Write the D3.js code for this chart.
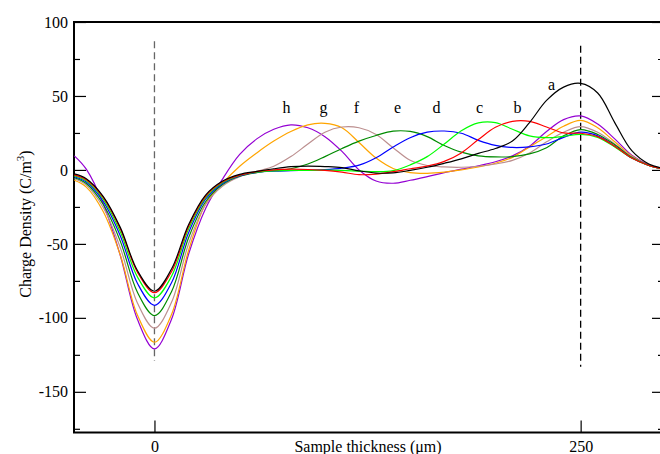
<!DOCTYPE html>
<meta charset="utf-8">
<head>
  <title>Charge density profiles</title>
</head>

<style>
body {
  margin: 0;
  background: #fff;
}
svg text {
  font-family: "Liberation Serif", "Times New Roman", serif;
  fill: #000;
}
</style>

<body>
  <div id="content">
    <svg width="660" height="454"></svg>
  </div>

  <script src="https://cdnjs.cloudflare.com/ajax/libs/d3/7.8.5/d3.min.js"></script>

  <script>
// sample positions (um), shared by every curve
var thickness = [-47, -40, -30, -20, -10, 0, 10, 20, 30, 40, 50, 60, 70, 80, 90, 100, 110, 120,
  130, 140, 150, 160, 170, 180, 190, 200, 210, 220, 230, 240, 250, 260, 270, 280, 290, 297];

var curveNames = ['a', 'b', 'c', 'd', 'e', 'f', 'g', 'h'];
var curveColors = ['#000000', '#ff0000', '#00ff00', '#0000ff', '#008b00', '#bc8f8f', '#ffa500', '#9400d3'];

// charge density (C/m^3)
var densityA = [-2.7, -6, -18, -39, -68, -82, -67, -37, -17, -7.5, -3, -1, 0.8, 2.2, 2.6, 2.3, 1.6, -0.6,
  -2.1, -2, -0.3, 1.8, 4.5, 7.5, 11.2, 14.5, 19.5, 32, 47, 56, 58.5, 52, 32, 13, 4, 1.5];
var densityB = [-3.3, -6.7, -18.7, -39.9, -69.1, -83, -68.8, -38.2, -17.8, -8, -3.5, -1.2, 0, 0.5, 0.3, -0.3, -1.5, -3.2,
  -2.8, -1.2, 0.8, 2.6, 5.8, 11.5, 20.5, 28.8, 32.8, 32.8, 29, 25, 24.8, 22.5, 16, 8, 3, 1];
var densityC = [-4, -7.4, -19.9, -42, -72.3, -86.5, -71.9, -40, -18.7, -8.5, -3.7, -1.5, -0.6, -0.3, -0.3, -0.2, -0.3, -0.8,
  -1.2, -0.5, 3.4, 9, 17.5, 26.5, 31.8, 32, 27.5, 23, 21.8, 22.7, 24, 22, 15.5, 8, 3, 1];
var densityD = [-4.6, -8.2, -21.4, -44.6, -76.6, -91.5, -76.3, -42.5, -19.8, -9.1, -4, -1.6, -0.8, -0.5, -0.2, 0.2, 1.2, 3.2,
  8.2, 15.5, 21.8, 25.5, 26.3, 24.8, 20, 16.6, 15.2, 15.6, 17.5, 22, 25.5, 23, 16, 8, 3, 1];
var densityE = [-5.3, -9.2, -23.4, -48.3, -82.7, -98.5, -82.3, -45.9, -21.5, -9.9, -4.3, -1.8, -0.5, 0.8, 4, 9, 14.5, 19.5,
  23.3, 26.2, 26, 22.5, 16.5, 12, 9.5, 8.8, 9, 10.8, 15, 23, 27.3, 24, 17, 8.5, 3, 1];
var densityF = [-6, -10.3, -25.6, -52.7, -89.9, -107, -89.5, -50, -23.4, -10.8, -4.5, -1, 2.5, 9, 17.5, 25.5, 29, 28.5,
  24, 15, 6.5, 3, 2, 1.8, 2.5, 4, 6.5, 11.5, 19, 25.5, 29.3, 25.5, 17.5, 9, 3, 1];
var densityG = [-7, -11.6, -28.3, -57.7, -98.1, -116.5, -97.7, -54.5, -23, -9, 2.5, 11.5, 19.5, 26, 30.5, 31.5, 28.5, 18.5,
  8, 1, -1.8, -2.3, -1.5, 0, 2, 4.5, 8.5, 15.5, 22.5, 29.5, 33.5, 28.5, 19, 9.5, 3.2, 1];
var densityH = [9.5, 0.5, -23, -58, -101, -121, -101, -57, -26, -6, 10.5, 21, 27.5, 30.5, 28.5, 22.5, 12.5, 0,
  -7.5, -9, -7, -4.5, -1.8, 0.5, 2.8, 5.5, 9.5, 16, 26, 34, 36.5, 31, 21, 10, 3.5, 1];

var allDensity = [densityA, densityB, densityC, densityD, densityE, densityF, densityG, densityH];

// where the letter for each curve sits [um, C/m^3]
var labelAt = [[233, 58], [213, 42.5], [190.7, 42.5], [165.5, 42.5], [142.6, 42.5], [118.5, 42.5], [99.2, 42.5], [77.5, 42.5]];

var yTicks = [-150, -100, -50, 0, 50, 100];
var yMinor = [-175, -125, -75, -25, 25, 75];
var xTicks = [0, 250];

// dashed markers at the two electrodes
var markerX = [0, 250];
var markerSpan = [[87, -129], [84, -133]];
var markerColor = ['#666', '#000'];

var svg = d3.select('#content svg');

// plot box (note: "top" is taken by window.top, so plotTop etc.)
var plotLeft = 74, plotRight = 664, plotTop = 22, plotBottom = 432.5;

var x = d3.scaleLinear().domain([-47.2, 298.9]).range([plotLeft, plotRight]);
var y = d3.scaleLinear().domain([-177.5, 100]).range([plotBottom, plotTop]);

// plain hyphen for negatives, like the original
var plainNum = function(d) { return String(d); };

// axes, ticks drawn inward like the original
var yAxisL = d3.axisLeft(y).tickValues(yTicks).tickSizeInner(-12).tickSizeOuter(0).tickPadding(6).tickFormat(plainNum);
var gL = svg.append('g').attr('transform', 'translate(' + plotLeft + ',0)').call(yAxisL);
gL.selectAll('text').style('font-size', '16px');

svg.append('g').attr('transform', 'translate(' + plotLeft + ',0)')
  .call(d3.axisLeft(y).tickValues(yMinor).tickSizeInner(-6).tickSizeOuter(0).tickFormat(''));

svg.append('g').attr('transform', 'translate(' + plotRight + ',0)')
  .call(d3.axisRight(y).tickValues(yTicks).tickSizeInner(-12).tickSizeOuter(0).tickFormat(''));
svg.append('g').attr('transform', 'translate(' + plotRight + ',0)')
  .call(d3.axisRight(y).tickValues(yMinor).tickSizeInner(-6).tickSizeOuter(0).tickFormat(''));

var xAxis = d3.axisBottom(x).tickValues(xTicks).tickSizeInner(-12).tickSizeOuter(0).tickPadding(8).tickFormat(plainNum);
var gB = svg.append('g').attr('transform', 'translate(0,' + plotBottom + ')').call(xAxis);
gB.selectAll('text').style('font-size', '16px');

svg.selectAll('.domain').remove();
svg.selectAll('.tick line').attr('stroke', '#000').attr('stroke-width', 1.2);
svg.selectAll('.tick text').attr('font-family', null);

// frame
svg.append('rect')
  .attr('x', plotLeft).attr('y', plotTop)
  .attr('width', plotRight - plotLeft).attr('height', plotBottom - plotTop)
  .attr('fill', 'none').attr('stroke', '#000').attr('stroke-width', 2);

// dashed lines
markerX.forEach(function(m, i) {
  svg.append('line')
    .attr('x1', x(m)).attr('x2', x(m))
    .attr('y1', y(markerSpan[i][0])).attr('y2', y(markerSpan[i][1]))
    .attr('stroke', markerColor[i]).attr('stroke-width', 1.3)
    .attr('stroke-dasharray', '7,4');
});

var line = d3.line()
  .x(function(d) { return x(d[0]); })
  .y(function(d) { return y(d[1]); })
  .curve(d3.curveCatmullRom.alpha(0.5));

// draw h first so black ends on top
for (var i = allDensity.length - 1; i >= 0; i--) {
  var pts = thickness.map(function(t, j) { return [t, allDensity[i][j]]; });
  svg.append('path')
    .attr('d', line(pts))
    .attr('fill', 'none')
    .attr('stroke', curveColors[i])
    .attr('stroke-width', 1.2);
}

svg.selectAll('.curve-label')
  .data(curveNames)
  .enter().append('text')
  .attr('class', 'curve-label')
  .attr('x', function(d, i) { return x(labelAt[i][0]); })
  .attr('y', function(d, i) { return y(labelAt[i][1]); })
  .attr('text-anchor', 'middle')
  .attr('dy', '0.35em')
  .style('font-size', '16px')
  .text(function(d) { return d; });

// axis titles
svg.append('text')
  .attr('x', 368).attr('y', 452)
  .attr('text-anchor', 'middle')
  .style('font-size', '16px')
  .text('Sample thickness (\u03bcm)');

var yt = svg.append('text')
  .attr('transform', 'translate(31,224) rotate(-90)')
  .attr('text-anchor', 'middle')
  .style('font-size', '16px');
yt.append('tspan').text('Charge Density (C/m');
yt.append('tspan').attr('dy', '-7').style('font-size', '11px').text('3');
yt.append('tspan').attr('dy', '7').text(')');
  </script>
</body>
</html>
